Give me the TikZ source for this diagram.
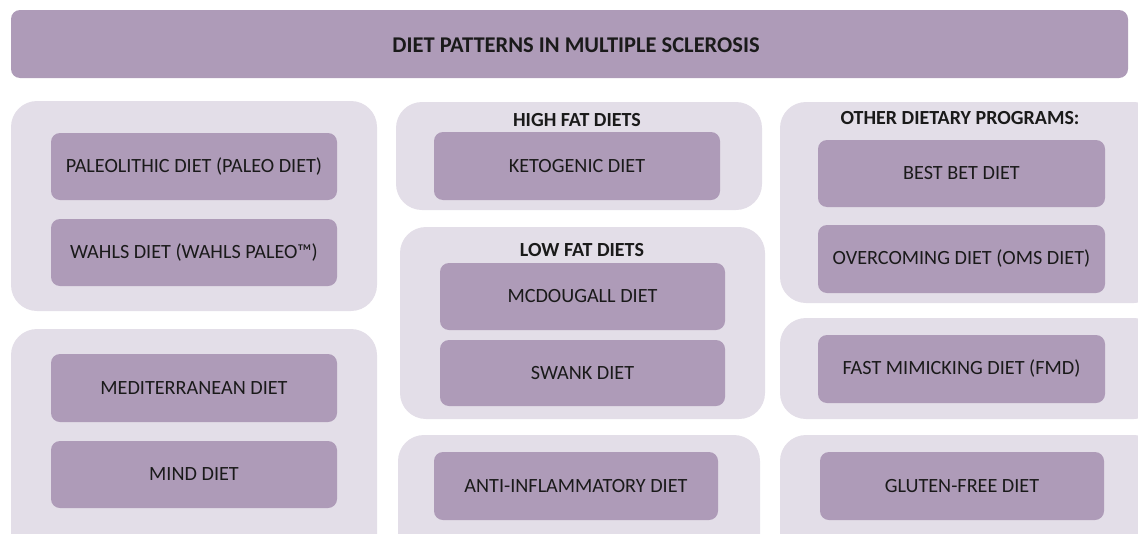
\documentclass[tikz,border=0pt]{standalone}
\usepackage{fontspec}
\setmainfont{Carlito}
\definecolor{boxc}{HTML}{AE9BB8}
\definecolor{grpc}{HTML}{E3DEE8}
\definecolor{txtc}{HTML}{1A1A1A}
\tikzset{
  grp/.style={fill=grpc, draw=none, rounded corners=26pt},
  itembox/.style={fill=boxc, draw=none, rounded corners=9pt, text=txtc, font=\fontsize{20.2}{24}\selectfont},
  hdr/.style={text=txtc, font=\bfseries\fontsize{20}{24}\selectfont},
}
\begin{document}
\begin{tikzpicture}[x=1pt,y=-1pt]
\useasboundingbox (0,0) rectangle (1138,533);
\clip (0,0) rectangle (1138,533);
% title
\fill[boxc, rounded corners=9pt] (11,10) rectangle (1128,78);
\node[text=txtc, font=\bfseries\fontsize{22.5}{26}\selectfont] (title) at (576,45) {DIET PATTERNS IN MULTIPLE SCLEROSIS};
% left column
\fill[grp] (11,101) rectangle (377,311);
\fill[itembox] (51,133) rectangle (337,200);
\node[itembox, fill=none] (paleo) at (194,166.5) {PALEOLITHIC DIET (PALEO DIET)};
\fill[itembox] (51,219) rectangle (337,286);
\node[itembox, fill=none] (wahls) at (194,252.5) {WAHLS DIET (WAHLS PALEO™)};
\fill[grp] (11,329) rectangle (377,560);
\fill[itembox] (51,354) rectangle (337,422);
\node[itembox, fill=none] (med) at (194,388) {MEDITERRANEAN DIET};
\fill[itembox] (51,441) rectangle (337,508);
\node[itembox, fill=none] (mind) at (194,474.5) {MIND DIET};
% middle column
\fill[grp] (396,102) rectangle (762,210);
\node[hdr] (high) at (577,120) {HIGH FAT DIETS};
\fill[itembox] (434,132) rectangle (720,200);
\node[itembox, fill=none] (keto) at (577,166) {KETOGENIC DIET};
\fill[grp] (400,227) rectangle (765,419);
\node[hdr] (low) at (582,250) {LOW FAT DIETS};
\fill[itembox] (440,263) rectangle (725,330);
\node[itembox, fill=none] (mcd) at (582.5,296.5) {MCDOUGALL DIET};
\fill[itembox] (440,340) rectangle (725,406);
\node[itembox, fill=none] (swank) at (582.5,373) {SWANK DIET};
\fill[grp] (398,435) rectangle (760,560);
\fill[itembox] (434,452) rectangle (718,520);
\node[itembox, fill=none] (anti) at (576,486) {ANTI-INFLAMMATORY DIET};
% right column
\fill[grp] (780,102) rectangle (1160,303);
\node[hdr] (other) at (960,118) {OTHER DIETARY PROGRAMS:};
\fill[itembox] (818,140) rectangle (1105,207);
\node[itembox, fill=none] (best) at (961.5,173.5) {BEST BET DIET};
\fill[itembox] (818,225) rectangle (1105,293);
\node[itembox, fill=none] (oms) at (961.5,259) {OVERCOMING DIET (OMS DIET)};
\fill[grp] (780,318) rectangle (1160,419);
\fill[itembox] (818,335) rectangle (1105,403);
\node[itembox, fill=none] (fmd) at (961.5,369) {FAST MIMICKING DIET (FMD)};
\fill[grp] (780,435) rectangle (1160,560);
\fill[itembox] (820,452) rectangle (1104,520);
\node[itembox, fill=none] (gluten) at (962,486) {GLUTEN-FREE DIET};
\end{tikzpicture}
\end{document}
